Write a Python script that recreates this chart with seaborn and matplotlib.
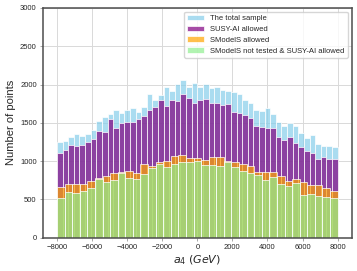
import numpy as np
import pandas as pd
import matplotlib
matplotlib.use('Agg')
from matplotlib import pyplot as plt
import seaborn as sns

# bin counts (50 bins for the two large samples, 37 for the others)
total_counts = [1252, 1261, 1309, 1348, 1326, 1352, 1404, 1526, 1570, 1613,
                1665, 1630, 1665, 1691, 1644, 1709, 1874, 1804, 1870, 1970,
                1913, 2004, 2057, 1970, 2022, 1970, 2004, 1957, 1970, 1926,
                1913, 1900, 1883, 1796, 1765, 1674, 1660, 1690, 1609, 1513,
                1461, 1500, 1461, 1370, 1304, 1339, 1230, 1200, 1196, 1178]
susy_counts = [1109, 1143, 1209, 1196, 1209, 1252, 1283, 1396, 1374, 1548,
               1439, 1504, 1513, 1513, 1544, 1591, 1665, 1709, 1796, 1717,
               1796, 1787, 1883, 1826, 1761, 1796, 1809, 1765, 1765, 1739,
               1752, 1644, 1622, 1600, 1565, 1461, 1448, 1439, 1426, 1317,
               1274, 1309, 1239, 1178, 1135, 1109, 1026, 1048, 1026, 1026]
smodels_counts = [660, 697, 700, 700, 745, 775, 800, 850, 855, 875,
                  840, 962, 936, 993, 1006, 1067, 1080, 1036, 1036, 1014,
                  1050, 1050, 1001, 984, 962, 940, 862, 858, 854, 810,
                  745, 767, 723, 688, 688, 645, 610]
nottested_counts = [522, 593, 580, 610, 645, 766, 723, 753, 840, 784,
                    766, 831, 910, 962, 918, 962, 984, 993, 1001, 945,
                    945, 936, 984, 919, 875, 849, 819, 754, 797, 701,
                    679, 710, 558, 571, 549, 536, 514]

a4_min, a4_max = -8000, 8000
edges_fine = np.linspace(a4_min, a4_max, len(total_counts) + 1)
edges_coarse = np.linspace(a4_min, a4_max, len(smodels_counts) + 1)

df_fine = pd.DataFrame({'a4': (edges_fine[:-1] + edges_fine[1:]) / 2,
                        'total': total_counts, 'susy': susy_counts})
df_coarse = pd.DataFrame({'a4': (edges_coarse[:-1] + edges_coarse[1:]) / 2,
                          'smodels': smodels_counts, 'nottested': nottested_counts})

sns.set_style('whitegrid')
plt.rcParams['font.family'] = ['Liberation Sans', 'DejaVu Sans']

fig = plt.figure(figsize=(3.57, 2.71), dpi=100)
ax = fig.add_axes([0.1204, 0.123, 0.8646, 0.8475])

hist_kw = dict(alpha=0.7, edgecolor='white', linewidth=0.5, ax=ax)
sns.histplot(data=df_fine, x='a4', weights='total', bins=list(edges_fine),
             color='skyblue', label='The total sample', **hist_kw)
sns.histplot(data=df_fine, x='a4', weights='susy', bins=list(edges_fine),
             color='purple', label='SUSY-AI allowed', **hist_kw)
sns.histplot(data=df_coarse, x='a4', weights='smodels', bins=list(edges_coarse),
             color='orange', label='SModelS allowed', **hist_kw)
sns.histplot(data=df_coarse, x='a4', weights='nottested', bins=list(edges_coarse),
             color='lightgreen', label='SModelS not tested & SUSY-AI allowed', **hist_kw)

ax.set_ylim(0, 3000)
ax.set_yticks(range(0, 3001, 500))
ax.set_xticks(range(-8000, 8001, 2000))
ax.set_xlabel('$a_4$ $(GeV)$', fontsize=8, labelpad=2)
ax.set_ylabel('Number of points', fontsize=8, labelpad=3)
ax.tick_params(labelsize=5.5, length=2.5, width=0.6, color='0.6', pad=2,
               left=True, bottom=True)
ax.grid(color='0.85', linewidth=0.7)
for sp in ax.spines.values():
    sp.set_color('0.3')
    sp.set_linewidth(1.1)

ax.legend(loc='upper right', fontsize=5.5, frameon=True, handlelength=2.2,
          borderpad=0.4, labelspacing=0.45)

fig.savefig('out.png', dpi=100)
